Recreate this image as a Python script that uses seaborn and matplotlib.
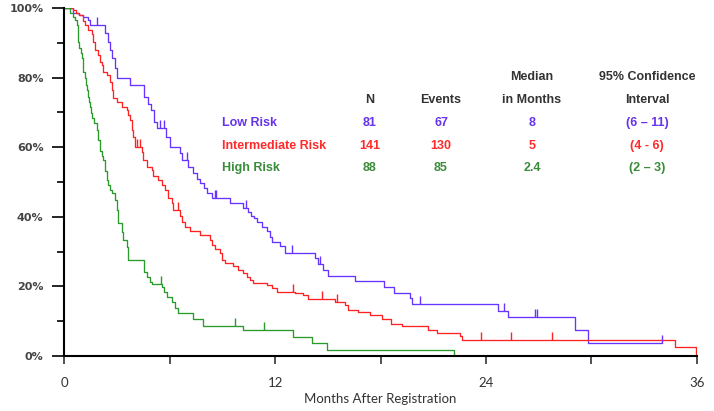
import numpy as np
import pandas as pd
import matplotlib
matplotlib.use("Agg")
import matplotlib.pyplot as plt
import seaborn as sns

# step times (months) and survival (%)
low_t = [0, 0.51, 0.84, 1.08, 1.33, 1.46, 2.32, 2.47, 2.6, 2.7, 2.88, 2.98, 3.74, 4.54, 4.76, 4.93,
         5.1, 5.28, 5.79, 6.02, 6.58, 6.7, 7.04, 7.33, 7.55, 7.72, 7.95, 8.12, 8.4, 9.43, 10.19,
         10.45, 10.63, 10.8, 10.95, 11.23, 11.52, 11.71, 11.85, 12.28, 12.56, 14.27, 14.45, 14.75,
         15.0, 16.55, 18.21, 18.78, 19.67, 19.77, 24.7, 25.27, 29.07, 29.82, 34.04]
low_s = [100, 98.6, 98.0, 97.3, 96.5, 95.1, 92.7, 90.3, 88.0, 85.5, 82.7, 79.8, 77.8, 74.3, 72.5, 70.7,
         67.3, 65.5, 63.0, 60.1, 58.3, 56.3, 54.4, 52.5, 51.0, 49.6, 48.2, 46.7, 45.5, 43.9, 42.4,
         41.5, 40.3, 39.6, 38.6, 37.2, 35.8, 34.1, 32.7, 31.6, 29.7, 28.1, 26.4, 24.7,
         22.9, 21.6, 19.9, 18.2, 16.6, 15.0, 13.0, 11.3, 7.5, 3.8, 3.8]
low_cens = [1.84, 5.42, 5.67, 7.0, 8.55, 8.66, 10.32, 12.94, 14.55, 20.25, 25.03, 26.79, 26.9, 34.04]

mid_t = [0, 0.51, 0.65, 0.84, 1.08, 1.18, 1.37, 1.56, 1.65, 1.75, 1.9, 2.03, 2.13, 2.22, 2.41, 2.6,
         2.7, 2.79, 2.98, 3.27, 3.55, 3.64, 3.74, 3.84, 3.93, 4.02, 4.41, 4.5, 4.69, 4.97, 5.07,
         5.35, 5.54, 5.73, 5.92, 6.11, 6.2, 6.58, 6.68, 6.87, 7.15, 7.72, 8.29, 8.39, 8.58, 8.86,
         8.96, 9.15, 9.62, 9.9, 10.19, 10.38, 10.57, 10.76, 11.55, 11.8, 12.13, 13.13, 13.6, 13.89,
         15.41, 15.98, 16.12, 16.73, 17.4, 18.06, 18.59, 19.2, 20.72, 21.21, 22.55, 22.65, 34.76, 35.94]
mid_s = [100, 99.4, 98.5, 98.0, 96.3, 95.1, 93.7, 92.6, 90.3, 87.9, 86.5, 84.6, 83.6, 81.7, 80.7, 78.8,
         76.4, 74.0, 73.1, 71.6, 70.7, 69.3, 67.8, 64.9, 63.0, 60.2, 58.7, 56.3, 54.4, 53.4, 51.6,
         50.6, 49.1, 47.7, 45.3, 43.9, 42.0, 40.3, 38.6, 37.2, 35.8, 34.8, 33.3, 31.8, 30.8, 29.5,
         27.5, 26.6, 25.8, 24.7, 23.8, 22.8, 21.8, 21.1, 20.4, 19.5, 18.5, 18.0, 17.5, 16.3,
         15.4, 14.7, 13.3, 12.6, 11.8, 10.7, 9.2, 8.5, 7.5, 6.6, 5.7, 4.6, 2.6, 0]
mid_cens = [4.14, 4.31, 6.47, 13.03, 14.65, 15.52, 23.7, 25.42, 27.74]

high_t = [0, 0.32, 0.51, 0.61, 0.71, 0.75, 0.8, 0.85, 0.95, 0.99, 1.04, 1.08, 1.15, 1.21, 1.27, 1.33,
          1.41, 1.46, 1.52, 1.59, 1.71, 1.84, 1.94, 2.03, 2.12, 2.22, 2.29, 2.41, 2.5, 2.6, 2.7,
          2.89, 2.98, 3.03, 3.08, 3.27, 3.36, 3.55, 3.64, 4.56, 4.69, 4.88, 4.97, 5.54, 5.67, 5.85,
          6.11, 6.3, 6.49, 7.34, 7.91, 10.19, 13.03, 14.08, 14.95, 22.2]
high_s = [100, 98.5, 97.5, 96.6, 95.1, 92.7, 90.3, 88.4, 87.0, 85.5, 83.4, 81.7, 79.8, 77.9, 76.4, 74.5,
          73.1, 71.6, 69.7, 68.3, 66.9, 65.0, 62.1, 58.8, 57.5, 56.3, 53.3, 50.6, 49.1, 47.7, 46.7,
          44.8, 42.0, 40.9, 38.1, 35.5, 33.3, 31.3, 27.6, 24.2, 22.8, 21.2, 20.7, 19.9, 18.5, 17.0,
          15.6, 13.7, 12.3, 10.6, 8.7, 7.5, 5.4, 3.6, 1.8, 0]
high_cens = [5.49, 9.69, 11.38]

groups = ["Low Risk", "Intermediate Risk", "High Risk"]
n_pat = ["81", "141", "88"]
events = ["67", "130", "85"]
medians = ["8", "5", "2.4"]
ci = ["(6 \u2013 11)", "(4 - 6)", "(2 \u2013 3)"]
line_colors = ["#6633ff", "#ff2222", "#2a9a2a"]
text_colors = ["#6633ee", "#ff2a2a", "#3a8c3a"]

df = pd.concat([
    pd.DataFrame({"month": t, "surv": s, "group": g})
    for t, s, g in zip([low_t, mid_t, high_t], [low_s, mid_s, high_s], groups)
], ignore_index=True)

sns.set_style("white")
fig = plt.figure(figsize=(7.14, 4.11), dpi=100)
ax = fig.add_axes([0.0901, 0.1338, 0.8857, 0.8467])

sns.lineplot(data=df, x="month", y="surv", hue="group", palette=dict(zip(groups, line_colors)),
             drawstyle="steps-post", estimator=None, sort=False, legend=False, linewidth=0.95, ax=ax)

# censor marks sit on the curve level at that time
tick_marker = [(0, 0), (0, 1)]
for t, s, cens, c in zip([low_t, mid_t, high_t], [low_s, mid_s, high_s],
                         [low_cens, mid_cens, high_cens], line_colors):
    idx = np.searchsorted(t, cens, side="right") - 1
    ax.plot(cens, np.array(s)[idx], linestyle="none", marker=tick_marker, markersize=11,
            markeredgecolor=c, markeredgewidth=1.0)

ax.set_xlim(0, 36)
ax.set_ylim(0, 100)
ax.set_xticks([0, 12, 24, 36])
ax.set_xticks([6, 18, 30], minor=True)
ax.set_yticks([0, 20, 40, 60, 80, 100])
ax.set_yticks([10, 30, 50, 70, 90], minor=True)
ax.set_yticklabels([f"{v}%" for v in [0, 20, 40, 60, 80, 100]],
                   fontdict={"family": "DejaVu Sans", "weight": "bold", "size": 8, "color": "#444444"})
ax.set_xticklabels(["0", "12", "24", "36"], fontdict={"family": "Lato", "size": 9.5, "color": "#333333"})
ax.tick_params(axis="y", which="major", length=9, width=1.2, color="black", left=True, pad=6)
ax.tick_params(axis="y", which="minor", length=5, width=1.2, color="black", left=True)
ax.tick_params(axis="x", which="both", length=6, width=1.2, color="#333333", bottom=True, pad=9)
for side in ["top", "right"]:
    ax.spines[side].set_visible(False)
for side in ["left", "bottom"]:
    ax.spines[side].set_linewidth(1.5)
    ax.spines[side].set_color("black")
ax.set_ylabel("")
ax.set_xlabel("Months After Registration", family="Lato", fontsize=9.5, color="#333333", labelpad=3)

# summary table
tf = dict(family="Liberation Sans", weight="bold", fontsize=9, va="center")
col_x = [17.4, 21.44, 26.62, 33.17]
row_y = [67.0, 60.3, 54.0]
ax.text(col_x[2], 80.2, "Median", ha="center", color="#333333", **tf)
ax.text(col_x[3], 80.2, "95% Confidence", ha="center", color="#333333", **tf)
for x, h in zip(col_x, ["N", "Events", "in Months", "Interval"]):
    ax.text(x, 73.6, h, ha="center", color="#333333", **tf)
for i, g in enumerate(groups):
    ax.text(8.97, row_y[i], g, ha="left", color=text_colors[i], **tf)
    for x, v in zip(col_x, [n_pat[i], events[i], medians[i], ci[i]]):
        ax.text(x, row_y[i], v, ha="center", color=text_colors[i], **tf)

fig.savefig("out.png", dpi=100)
